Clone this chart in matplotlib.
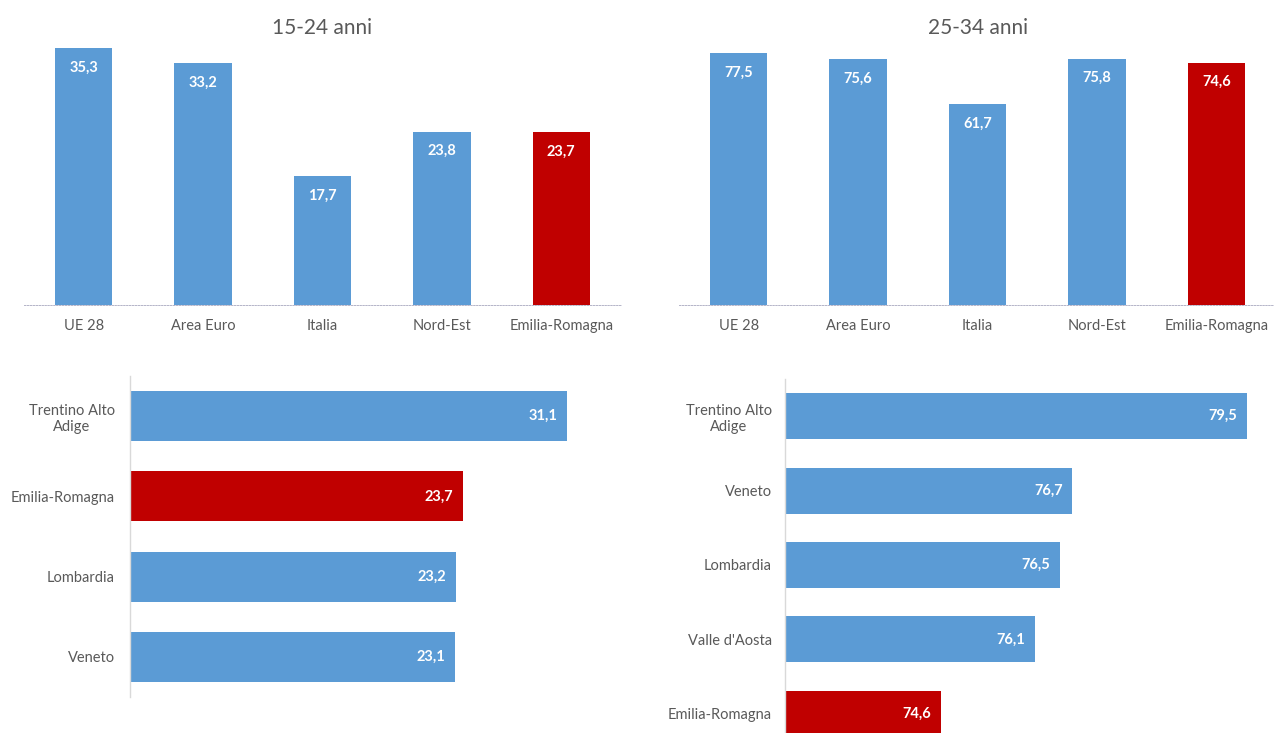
import matplotlib
matplotlib.use("Agg")
import matplotlib.pyplot as plt

plt.rcParams['font.family'] = ['Lato', 'DejaVu Sans']

# tasso di occupazione per classe di età
aree = ["UE 28", "Area Euro", "Italia", "Nord-Est", "Emilia-Romagna"]
val_15_24 = [35.3, 33.2, 17.7, 23.8, 23.7]
val_25_34 = [77.5, 75.6, 61.7, 75.8, 74.6]

regioni_15_24 = ["Trentino Alto\nAdige", "Emilia-Romagna", "Lombardia", "Veneto"]
reg_val_15_24 = [31.1, 23.7, 23.2, 23.1]

regioni_25_34 = ["Trentino Alto\nAdige", "Veneto", "Lombardia", "Valle d'Aosta", "Emilia-Romagna"]
reg_val_25_34 = [79.5, 76.7, 76.5, 76.1, 74.6]

BLU = "#5b9bd5"
ROSSO = "#c00000"
GRIGIO = "#595959"
W, H = 1274, 733

fig = plt.figure(figsize=(W / 100, H / 100), dpi=100)


def px_axes(x0, x1, y0, y1):
    # y0 = top, y1 = bottom in pixel coords
    return fig.add_axes([x0 / W, 1 - y1 / H, (x1 - x0) / W, (y1 - y0) / H])


def colori(labels):
    return [ROSSO if l == "Emilia-Romagna" else BLU for l in labels]


def colonne(ax, labels, vals, ymax, title, title_x):
    x = range(len(labels))
    ax.bar(x, vals, width=0.48, color=colori(labels), zorder=2)
    ax.set_xlim(-0.5, len(labels) - 0.5)
    ax.set_ylim(0, ymax)
    for i, v in enumerate(vals):
        ax.annotate(f"{v:.1f}".replace(".", ","), (i, v), xytext=(0, -14),
                    textcoords="offset points", ha="center", va="center",
                    color="white", fontsize=10.5, fontweight="bold")
    ax.set_xticks(list(x))
    ax.set_xticklabels(labels, fontsize=10.5, color=GRIGIO)
    ax.tick_params(axis="x", length=0, pad=10)
    ax.set_yticks([])
    for s in ["top", "right", "left"]:
        ax.spines[s].set_visible(False)
    ax.spines["bottom"].set_color("#b4b4c8")
    ax.spines["bottom"].set_linestyle((0, (1.5, 1.5)))
    ax.spines["bottom"].set_linewidth(0.7)
    fig.text(title_x / W, 1 - 28 / H, title, ha="center", va="center",
             fontsize=15, color=GRIGIO)


def barre(ax, labels, vals, xmin, xmax, pad):
    y = range(len(labels))
    ax.barh(y, vals, height=0.62, color=colori(labels), zorder=2)
    ax.set_ylim(len(labels) - 0.5, -0.5)
    ax.set_xlim(xmin, xmax)
    for i, v in enumerate(vals):
        ax.annotate(f"{v:.1f}".replace(".", ","), (v, i), xytext=(-7, 0),
                    textcoords="offset points", ha="right", va="center",
                    color="white", fontsize=10.5, fontweight="bold")
    ax.set_yticks(list(y))
    ax.set_yticklabels(labels, fontsize=10.5, color=GRIGIO, multialignment="center")
    ax.tick_params(axis="y", length=0, pad=pad)
    ax.set_xticks([])
    for s in ["top", "right", "bottom"]:
        ax.spines[s].set_visible(False)
    ax.spines["left"].set_color("#d9d9d9")
    ax.spines["left"].set_linewidth(1.0)


ax1 = px_axes(24, 621, 40, 305)
colonne(ax1, aree, val_15_24, 265 / 7.28, "15-24 anni", 322)

ax2 = px_axes(679, 1276, 40, 305)
colonne(ax2, aree, val_25_34, 265 / 3.25, "25-34 anni", 978)

ax3 = px_axes(130, 622, 376, 697)
barre(ax3, regioni_15_24, reg_val_15_24, 0, 492 / 14.05, 11)

ax4 = px_axes(785, 1274, 379, 751)
barre(ax4, regioni_25_34, reg_val_25_34, 72.1, 72.1 + 489 / 62.45, 9.5)

fig.savefig("out.png", dpi=100)
